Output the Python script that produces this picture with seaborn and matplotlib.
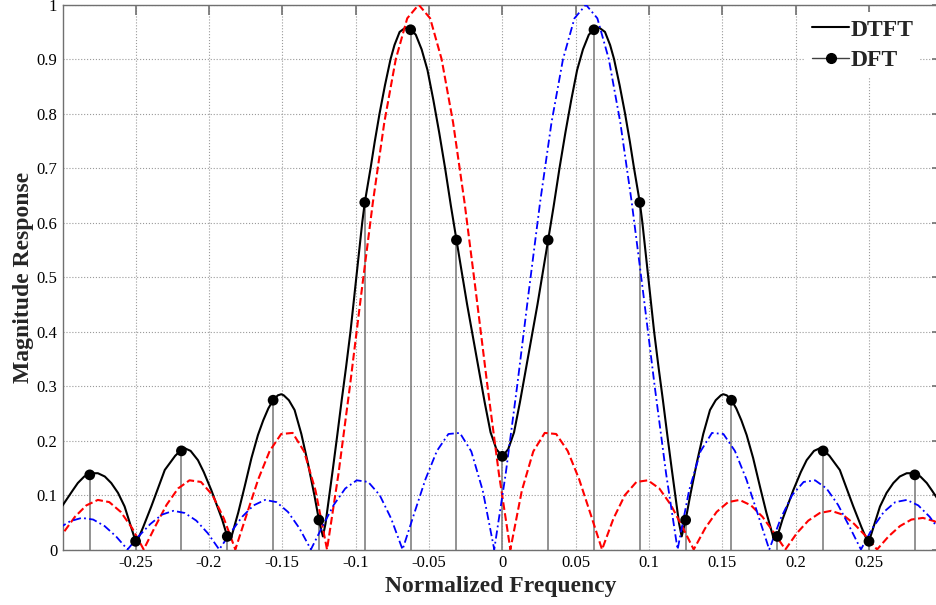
import numpy as np
import pandas as pd
import matplotlib
matplotlib.use("Agg")
import matplotlib.pyplot as plt
from matplotlib.lines import Line2D
from matplotlib.font_manager import FontProperties
import seaborn as sns

# ---------------- data ----------------
# red (dashed) and blue (dash-dot) component magnitudes, sampled every 1/128
red_center = -0.057
blue_center = 0.057
sample_step = 1.0 / 128
red_k = np.arange(-32, 47)
blue_k = np.arange(-46, 33)
red_mag = [0.000, 0.031, 0.060, 0.081, 0.091, 0.087, 0.069, 0.039,
           0.000, 0.042, 0.082, 0.112, 0.127, 0.124, 0.100, 0.057,
           0.000, 0.065, 0.129, 0.181, 0.212, 0.214, 0.180, 0.108,
           0.000, 0.139, 0.300, 0.471, 0.637, 0.784, 0.900, 0.975,
           1.000,
           0.975, 0.900, 0.784, 0.637, 0.471, 0.300, 0.139, 0.000,
           0.108, 0.180, 0.214, 0.212, 0.181, 0.129, 0.065, 0.000,
           0.057, 0.100, 0.124, 0.127, 0.112, 0.082, 0.042, 0.000,
           0.039, 0.069, 0.087, 0.091, 0.081, 0.060, 0.031, 0.000,
           0.030, 0.053, 0.067, 0.071, 0.064, 0.047, 0.025, 0.000,
           0.024, 0.043, 0.055, 0.058, 0.052, 0.039]
blue_mag = [0.039, 0.052, 0.058, 0.055, 0.043, 0.024,
            0.000, 0.025, 0.047, 0.064, 0.071, 0.067, 0.053, 0.030,
            0.000, 0.031, 0.060, 0.081, 0.091, 0.087, 0.069, 0.039,
            0.000, 0.042, 0.082, 0.112, 0.127, 0.124, 0.100, 0.057,
            0.000, 0.065, 0.129, 0.181, 0.212, 0.214, 0.180, 0.108,
            0.000, 0.139, 0.300, 0.471, 0.637, 0.784, 0.900, 0.975,
            1.000,
            0.975, 0.900, 0.784, 0.637, 0.471, 0.300, 0.139, 0.000,
            0.108, 0.180, 0.214, 0.212, 0.181, 0.129, 0.065, 0.000,
            0.057, 0.100, 0.124, 0.127, 0.112, 0.082, 0.042, 0.000,
            0.039, 0.069, 0.087, 0.091, 0.081, 0.060, 0.031, 0.000]

# black DTFT magnitude (symmetric about 0), positive-frequency half
dtft_freq_pos = [0.000, 0.004, 0.008, 0.012, 0.016, 0.020, 0.024, 0.028, 0.03125,
                 0.035, 0.039, 0.043, 0.047, 0.051, 0.055, 0.059, 0.0625, 0.066,
                 0.070, 0.0735, 0.0762, 0.080, 0.0837, 0.087, 0.0898, 0.09375,
                 0.0955, 0.0995, 0.1035, 0.1065, 0.1095, 0.1125, 0.1155, 0.1185,
                 0.1205, 0.1223, 0.125, 0.128, 0.1325, 0.137, 0.1416, 0.1455,
                 0.149, 0.1507, 0.153, 0.15625, 0.1595, 0.163, 0.1666, 0.171,
                 0.1757, 0.180, 0.1848,
                 0.1875, 0.191, 0.1984, 0.2035, 0.2075, 0.2125, 0.2166, 0.21875,
                 0.223, 0.2301, 0.2393, 0.245, 0.2495, 0.250, 0.2535, 0.2575,
                 0.262, 0.2666, 0.271, 0.2757, 0.280, 0.28125, 0.285, 0.2894,
                 0.293, 0.2965, 0.300]
dtft_mag_pos = [0.171, 0.184, 0.215, 0.270, 0.330, 0.390, 0.450, 0.515, 0.568,
                0.630, 0.700, 0.765, 0.825, 0.880, 0.918, 0.945, 0.954, 0.958,
                0.950, 0.926, 0.900, 0.852, 0.800, 0.748, 0.700, 0.637,
                0.600, 0.500, 0.400, 0.335, 0.274, 0.210, 0.148, 0.088,
                0.048, 0.024, 0.054, 0.098, 0.158, 0.212, 0.256, 0.274,
                0.283, 0.285, 0.283, 0.274, 0.259, 0.237, 0.210, 0.168,
                0.115, 0.068, 0.022,
                0.024, 0.055, 0.109, 0.142, 0.164, 0.181, 0.186, 0.183,
                0.172, 0.146, 0.079, 0.040, 0.012, 0.015, 0.045, 0.079,
                0.104, 0.122, 0.134, 0.140, 0.140, 0.138, 0.134, 0.122,
                0.108, 0.094, 0.080]

# 32-point DFT samples
dft_freq = [-0.28125, -0.25, -0.21875, -0.1875, -0.15625, -0.125, -0.09375,
            -0.0625, -0.03125, 0.0, 0.03125, 0.0625, 0.09375, 0.125, 0.15625,
            0.1875, 0.21875, 0.25, 0.28125]
dft_mag = [0.137, 0.015, 0.181, 0.024, 0.274, 0.054, 0.637, 0.954, 0.568,
           0.171, 0.568, 0.954, 0.637, 0.054, 0.274, 0.024, 0.181, 0.015, 0.137]

xtick_vals = [-0.25, -0.2, -0.15, -0.1, -0.05, 0, 0.05, 0.1, 0.15, 0.2, 0.25]
xtick_labels = ["-0.25", "-0.2", "-0.15", "-0.1", "-0.05", "0", "0.05", "0.1",
                "0.15", "0.2", "0.25"]
ytick_vals = [0, 0.1, 0.2, 0.3, 0.4, 0.5, 0.6, 0.7, 0.8, 0.9, 1.0]
ytick_labels = ["0", "0.1", "0.2", "0.3", "0.4", "0.5", "0.6", "0.7", "0.8",
                "0.9", "1"]

# ---------------- tables ----------------
red_df = pd.DataFrame({"f": red_center + red_k * sample_step, "m": red_mag})
blue_df = pd.DataFrame({"f": blue_center + blue_k * sample_step, "m": blue_mag})
black_f = [-f for f in reversed(dtft_freq_pos)] + dtft_freq_pos[1:]
black_m = list(reversed(dtft_mag_pos)) + dtft_mag_pos[1:]
black_df = pd.DataFrame({"f": black_f, "m": black_m})
dft_df = pd.DataFrame({"f": dft_freq, "m": dft_mag})

# ---------------- style ----------------
sns.set_theme(style="white")
plt.rcParams["font.family"] = ["Liberation Serif", "DejaVu Serif"]

fig = plt.figure(figsize=(9.37, 6.05), dpi=100)
W, H = 937.0, 605.0
ax_left, ax_right, ax_top, ax_bot = 62.7, 941.9, 4.7, 549.5
ax = fig.add_axes([ax_left / W, 1 - ax_bot / H, (ax_right - ax_left) / W,
                   (ax_bot - ax_top) / H])

ax.set_axisbelow(True)
ax.grid(True, linestyle=":", color="#9a9a9a", linewidth=0.8)

sns.lineplot(data=black_df, x="f", y="m", color="black", linewidth=1.5,
             errorbar=None, ax=ax, zorder=3)
sns.lineplot(data=red_df, x="f", y="m", color="red", linewidth=1.5,
             linestyle="--", errorbar=None, ax=ax, zorder=3)
sns.lineplot(data=blue_df, x="f", y="m", color="blue", linewidth=1.3,
             errorbar=None, ax=ax, zorder=3)
ax.lines[-1].set_dashes([4.5, 1.8, 1.0, 1.8])

ax.vlines(dft_df["f"], 0, dft_df["m"], color="#808080", linewidth=1.2, zorder=2.5)
sns.scatterplot(data=dft_df, x="f", y="m", color="black", s=60, edgecolor="none",
                ax=ax, zorder=5)

ax.set_xlim(-0.2997, 0.2997)
ax.set_ylim(0, 1)
ax.set_xticks(xtick_vals)
ax.set_xticklabels(xtick_labels)
ax.set_yticks(ytick_vals)
ax.set_yticklabels(ytick_labels)
ax.tick_params(direction="in", length=7, width=1.2, color="#707070",
               top=True, right=True, labelsize=12, pad=4, labelcolor="black")
for s in ax.spines.values():
    s.set_color("#707070")
    s.set_linewidth(1.0)

lab_font = FontProperties(family="Liberation Serif", weight="bold", size=17)
ax.set_xlabel("Normalized Frequency", fontproperties=lab_font)
ax.set_ylabel("Magnitude Response", fontproperties=lab_font)
ax.xaxis.set_label_coords(0.4983, -0.0786)
ax.xaxis.label.set_va("baseline")
ax.yaxis.set_label_coords(-0.0445, 0.5)
ax.yaxis.label.set_va("center")

handles = [Line2D([], [], color="black", linewidth=1.5),
           Line2D([], [], color="#404040", linewidth=1.0, marker="o",
                  markersize=7, markerfacecolor="black", markeredgecolor="black")]
leg = ax.legend(handles, ["DTFT", "DFT"], prop=lab_font, loc="upper left",
                bbox_to_anchor=(805 / W, 1 - 12 / H),
                bbox_transform=fig.transFigure, frameon=True, fancybox=False,
                facecolor="white", edgecolor="none", framealpha=1,
                borderpad=0.3, handlelength=1.57, handletextpad=0.05,
                labelspacing=0.38, borderaxespad=0)
leg.set_zorder(10)

fig.savefig("out.png", dpi=100)
